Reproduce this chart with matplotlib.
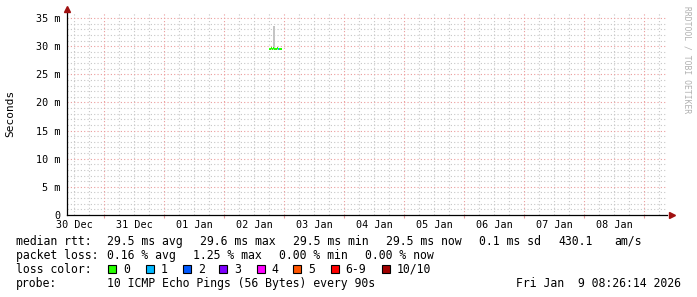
import numpy as np
import matplotlib
matplotlib.use("Agg")
from matplotlib import pyplot as plt
from matplotlib.patches import Rectangle

# x values are days counted from 30 Dec 00:00
day_labels = ["30 Dec", "31 Dec", "01 Jan", "02 Jan", "03 Jan",
              "04 Jan", "05 Jan", "06 Jan", "07 Jan", "08 Jan"]
t_start = 0.378
t_end = 10.378

# one sample per 24 min on 2 Jan evening
sample_t = 3.745 + np.arange(13) / 60.0
median_ms = [29.5, 29.5, 29.6, 29.5, 29.6, 29.5, 29.5, 29.5, 29.6, 29.5, 29.5, 29.5, 29.5]
smoke_lo = [29.4, 29.4, 29.4, 29.4, 29.4, 29.4, 29.4, 29.4, 29.4, 29.4, 29.4, 29.4, 29.4]
smoke_hi = [29.7, 29.7, 29.7, 29.7, 33.6, 33.6, 29.7, 29.7, 29.7, 29.7, 29.7, 29.7, 29.7]
lost = [0, 0, 0, 0, 0, 0, 0, 0, 0, 1, 0, 0, 0]

loss_names = ["0", "1", "2", "3", "4", "5", "6-9", "10/10"]
loss_colors = ["#26ff00", "#00b8ff", "#0059ff", "#7e00ff", "#ff00ff",
               "#ff5500", "#ff0000", "#a10000"]

yticks = [0, 5, 10, 15, 20, 25, 30, 35]
ytick_labels = ["0", "5 m", "10 m", "15 m", "20 m", "25 m", "30 m", "35 m"]

mono = "DejaVu Sans Mono"
W, H = 697, 297

fig = plt.figure(figsize=(W / 100, H / 100), dpi=100)
ax = fig.add_axes([67 / W, (H - 215) / H, 600 / W, 202 / H])
ax.set_xlim(t_start, t_end)
ax.set_ylim(0, 35.9)

# grid: minor every 6 h / 1 ms, major every day / 5 ms
dots = (0, (1, 2))
for v in np.arange(1, 36):
    if v % 5:
        ax.axhline(v, color="#c6c6c6", lw=0.8, ls=dots, zorder=0)
for d in np.arange(0.5, 11, 0.25):
    if d % 1:
        ax.axvline(d, color="#c6c6c6", lw=0.8, ls=dots, zorder=0)
for v in yticks[1:]:
    ax.axhline(v, color="#eb9c9c", lw=0.8, ls=dots, zorder=1)
for d in range(1, 11):
    ax.axvline(d, color="#eb9c9c", lw=0.8, ls=dots, zorder=1)

# smoke and median line
ax.bar(sample_t, np.array(smoke_hi) - np.array(smoke_lo), bottom=smoke_lo,
       width=1 / 60, align="edge", color="#c4c4c4", lw=0, zorder=2)
ax.bar(sample_t, 0.36, bottom=np.array(median_ms) - 0.18, width=1.1 / 60,
       align="edge", color=[loss_colors[n] for n in lost], lw=0, zorder=3)

for s in ["top", "right"]:
    ax.spines[s].set_visible(False)
for s in ["left", "bottom"]:
    ax.spines[s].set_color("black")
    ax.spines[s].set_linewidth(0.9)

ax.set_yticks(yticks, ytick_labels, fontfamily=mono, fontsize=7.3)
ax.tick_params(axis="y", length=0, pad=5)
ax.set_xticks(range(1, 11), [""] * 10)
ax.tick_params(axis="x", which="major", length=2, color="#eb9c9c")
ax.set_xticks(np.arange(0.5, 10, 1), day_labels, minor=True,
              fontfamily=mono, fontsize=7.3)
ax.tick_params(axis="x", which="minor", length=0, pad=3.5)

# axis arrows
ax.plot([0], [1.02], marker="^", ms=4.5, color="#a01010", transform=ax.transAxes,
        clip_on=False, zorder=5)
ax.plot([1.008], [0], marker=">", ms=4.5, color="#a01010", transform=ax.transAxes,
        clip_on=False, zorder=5)

fig.text(10 / W, 1 - 113 / H, "Seconds", rotation=90, ha="center", va="center",
         fontfamily=mono, fontsize=8)
fig.text(687 / W, 1 - 60 / H, "RRDTOOL / TOBI OETIKER", rotation=270,
         ha="center", va="center", fontfamily=mono, fontsize=5.8, color="#b0b0b0")

fs = 8.3


def put(x, y, s, **kw):
    fig.text(x / W, 1 - y / H, s, fontfamily=mono, fontsize=fs, va="center", **kw)


y1, y2, y3, y4 = 241.3, 255.3, 269.3, 283.3
put(16, y1, "median rtt:")
for x, s in zip([107.3, 200, 293.3, 385.7, 479.3, 558.3, 614],
                ["29.5 ms avg", "29.6 ms max", "29.5 ms min", "29.5 ms now",
                 "0.1 ms sd", "430.1", "am/s"]):
    put(x, y1, s)

put(16, y2, "packet loss:")
for x, s in zip([107.3, 193.3, 279.3, 365],
                ["0.16 % avg", "1.25 % max", "0.00 % min", "0.00 % now"]):
    put(x, y2, s)

put(16, y3, "loss color:")
box_x = [108.3, 145.7, 182.7, 219.3, 256.7, 293.3, 330.7, 381.7]
for x, name, c in zip(box_x, loss_names, loss_colors):
    fig.patches.append(Rectangle((x / W, 1 - (y3 + 4) / H), 8 / W, 8 / H,
                                 facecolor=c, edgecolor="black", lw=0.8,
                                 transform=fig.transFigure, figure=fig))
    put(x + 15, y3, name)

put(16, y4, "probe:")
put(107.3, y4, "10 ICMP Echo Pings (56 Bytes) every 90s")
put(681, y4, "Fri Jan  9 08:26:14 2026", ha="right")

fig.savefig("out.png", dpi=100)
